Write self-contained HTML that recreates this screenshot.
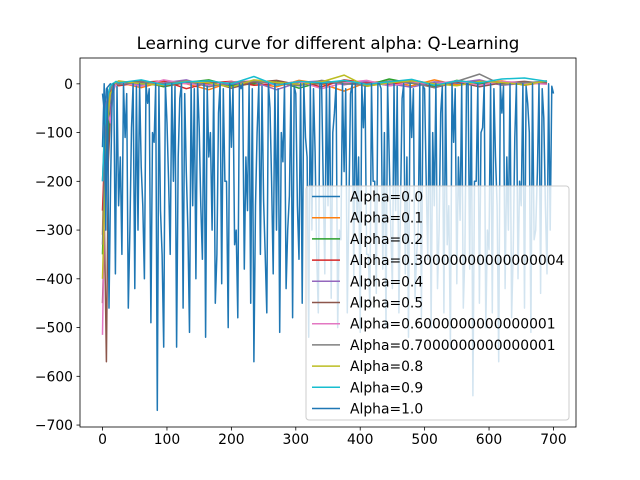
<!DOCTYPE html>
<html><head><meta charset="utf-8"><style>
body{margin:0;background:#fff;}
svg{display:block;font-family:"DejaVu Sans","Liberation Sans",sans-serif;}
</style></head><body>
<svg id="chart" width="640" height="480">
<text x="328" y="49" text-anchor="middle" font-size="16.67">Learning curve for different alpha: Q-Learning</text>
<g id="plot"></g>
<g id="axes"></g>
<g id="legend"></g>
</svg>
<script>
const labels=["Alpha=0.0","Alpha=0.1","Alpha=0.2","Alpha=0.30000000000000004","Alpha=0.4","Alpha=0.5","Alpha=0.6000000000000001","Alpha=0.7000000000000001","Alpha=0.8","Alpha=0.9","Alpha=1.0"];
const colors=["#1f77b4","#ff7f0e","#2ca02c","#d62728","#9467bd","#8c564b","#e377c2","#7f7f7f","#bcbd22","#17becf","#1f77b4"];
const xTicks=[0,100,200,300,400,500,600,700];
const yTicks=[0,-100,-200,-300,-400,-500,-600,-700];
const spikyEpisodesStep=5;
const spikyValues=[-130,-300,-460,-20,-390,-250,-350,-110,-460,-90,
-420,-300,-170,-400,-40,-490,-120,-670,-260,-540,
-80,-350,-200,-540,-30,-460,-180,-510,-250,-400,
-90,-360,-520,-150,-300,-450,-60,-410,-200,-500,
-130,-330,-480,-10,-380,-260,-450,-570,-100,-350,
-240,-470,-50,-390,-300,-510,-160,-420,-230,-480,
-20,-360,-450,-110,-520,-300,-140,-470,0,-390,
-250,-440,-60,-500,-320,-180,-470,-20,-400,-280,
-510,-90,-350,-460,-200,-430,0,-380,-500,-150,
-420,-260,-470,-30,-390,-520,-110,-440,-300,-480,
-10,-360,-500,-250,-420,-60,-470,-330,-540,-120,
-410,-280,-460,0,-380,-640,-200,-450,-90,-500,
-340,-470,-150,-570,-60,-420,-300,-480,-110,-400,
-250,-460,-40,-510,-320,-180,-430,-70,-390,-300,
-20];
const midValues=[0,-10,-200,0,-5,-150,0,-20,-300,0,
-5,0,-250,0,-10,-100,0,-5,-350,0,
-200,0,-5,-150,0,-20,-300,0,-10,0,
-250,0,-5,-100,0,-350,0,-10,-200,0,
-5,-300,0,0,-150,0,-10,-250,0,-5,
-350,0,-200,0,-10,-100,0,-300,0,-5,
-250,0,0,-150,0,-10,-350,0,-200,0,
-5,-100,0,-300,0,-10,-250,0,0,-150,
0,-5,-350,0,-200,0,-10,-100,0,-300,
0,-5,-250,0,-150,0,-10,-350,0,-5,
-200,0,-100,0,-300,-5,0,-250,0,-10,
-150,0,-350,0,-5,-200,0,-100,0,-300,
0,-10,-250,0,-5,-150,0,-350,0,-200,
0,-5,-100,0,-300,0,-10,-250,0,-5];
const earlyEpisodes=[0,3,6,9,12,15,18,21];
const earlyValues=[
[-20,-60,-10,-5,0,-3,2,0],
[-310,-120,-60,-20,-5,-10,2,0],
[-350,-200,-90,-130,-20,-8,0,3],
[-260,-150,-80,-40,-10,-30,-5,0],
[-200,-90,-40,-20,-60,-10,0,2],
[-450,-300,-570,-160,-70,-30,-5,0],
[-515,-250,-120,-60,-80,-40,-10,0],
[-330,-180,-90,-40,-10,-5,0,2],
[-400,-250,-120,-60,-20,-15,0,3],
[-200,-100,-50,-20,-5,0,2,5],
[0,0,0,0,0,0,0,0]];
const lateEpisodes=[25,60,95,130,165,200,235,270,305,340,375,410,445,480,515,550,585,620,655,690];
const lateValues=[
[0,2,-5,4,0,-3,6,1,-2,3,0,5,-4,2,1,-1,4,0,2,3],
[3,-8,5,0,-12,4,2,-6,7,0,-15,3,5,-4,8,-2,0,6,-3,4],
[2,5,-6,3,8,-4,0,6,-9,4,2,-3,10,1,-5,7,0,3,-2,5],
[-4,3,6,-10,2,5,-3,0,4,-6,8,2,-1,5,-8,3,6,-2,4,1],
[5,-3,2,8,-5,0,4,-12,3,6,-2,5,0,-7,4,2,8,-3,1,6],
[0,6,-4,2,5,-9,3,7,-2,0,5,-5,3,8,-1,4,-6,2,5,0],
[3,-5,8,0,-3,4,6,-2,5,-10,2,7,-4,3,0,6,-3,5,2,-1],
[-2,4,0,6,-6,3,5,1,-4,7,0,-3,6,2,-8,5,20,-2,3,4],
[6,0,-3,5,2,-7,8,3,-1,4,18,-5,2,6,0,-4,5,3,-2,6],
[2,8,-2,4,6,0,15,-3,5,2,7,-1,4,9,-3,6,2,10,12,5],
[0,0,0,0,0,0,0,0,0,0,0,0,0,0,0,0,0,0,0,0]];
const NS="http://www.w3.org/2000/svg";
const L=80,R=576,T=58,B=427;
const x0=-35,x1=735,y0=-704,y1=53;
function sx(v){return L+(v-x0)/(x1-x0)*(R-L);}
function sy(v){return B-(v-y0)/(y1-y0)*(B-T);}
function mk(tag,attrs,parent){const e=document.createElementNS(NS,tag);for(const k in attrs)e.setAttribute(k,attrs[k]);parent.appendChild(e);return e;}
const plot=document.getElementById('plot');
function drawSeries(i){
  let pts=[];
  if(i===10){
    spikyValues.forEach((v,j)=>{
      pts.push([j*spikyEpisodesStep,v]);
      if(j<midValues.length)pts.push([j*spikyEpisodesStep+spikyEpisodesStep/2,midValues[j]]);
    });
  } else {
    earlyEpisodes.forEach((e,j)=>pts.push([e,earlyValues[i][j]]));
    lateEpisodes.forEach((e,j)=>pts.push([e,lateValues[i][j]]));
  }
  const d=pts.map((p,j)=>(j?'L':'M')+sx(p[0]).toFixed(1)+','+sy(p[1]).toFixed(1)).join('');
  const p=mk('path',{d:d,fill:'none',stroke:colors[i],'stroke-width':1.5,'stroke-linejoin':'round'},plot);
  
  
}
for(let i=0;i<labels.length;i++)drawSeries(i);
const axes=document.getElementById('axes');
const fr=mk('rect',{x:L,y:T,width:R-L,height:B-T,fill:'none',stroke:'#000','stroke-width':0.8},axes);


xTicks.forEach(v=>{
  const x=sx(v);
  mk('line',{x1:x,y1:B,x2:x,y2:B+3.5,stroke:'#000','stroke-width':0.8},axes);
  const t=mk('text',{x:x,y:B+17,'text-anchor':'middle','font-size':13.89},axes);
  t.textContent=v;
  
  
});
yTicks.forEach(v=>{
  const y=sy(v);
  mk('line',{x1:L,y1:y,x2:L-3.5,y2:y,stroke:'#000','stroke-width':0.8},axes);
  const t=mk('text',{x:L-7,y:y+5,'text-anchor':'end','font-size':13.89},axes);
  t.textContent=v===0?'0':'\u2212'+Math.abs(v);
  
  
});
const lg=document.getElementById('legend');


mk('rect',{x:306,y:186,width:263,height:234,rx:3,fill:'rgba(255,255,255,0.8)',stroke:'#ccc','stroke-width':1},lg);
labels.forEach((lab,i)=>{
  const y=196.5+i*21.2;
  const g=mk('g',{},lg);
  
  
  mk('line',{x1:312,y1:y,x2:340,y2:y,stroke:colors[i],'stroke-width':1.5},g);
  const t=mk('text',{x:350,y:y+5,'font-size':13.89},g);
  t.textContent=lab;
});
</script>
</body></html>
